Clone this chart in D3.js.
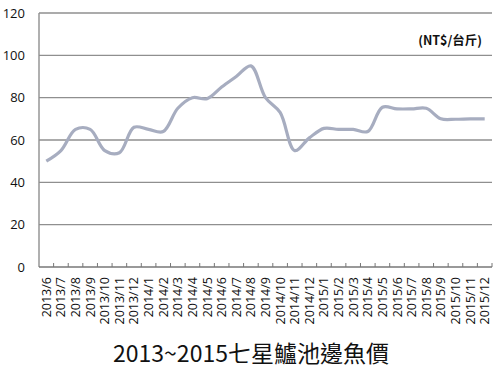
<!DOCTYPE html>
<html>
<head>
<meta charset="utf-8">
<script src="https://cdn.jsdelivr.net/npm/d3@7"></script>
<style>
    body { margin: 0; background: #fff; }
    svg { display: block; }
</style>
</head>
<body>
<div id="chart"></div>
<script>
// months and prices
const months = [
    "2013/6", "2013/7", "2013/8", "2013/9", "2013/10", "2013/11", "2013/12",
    "2014/1", "2014/2", "2014/3", "2014/4", "2014/5", "2014/6", "2014/7", "2014/8",
    "2014/9", "2014/10", "2014/11", "2014/12",
    "2015/1", "2015/2", "2015/3", "2015/4", "2015/5", "2015/6", "2015/7", "2015/8",
    "2015/9", "2015/10", "2015/11", "2015/12"
];
const prices = [
    50, 55, 65, 65, 55, 54, 66,
    65, 64, 75, 80, 79.5, 85, 90, 95,
    80, 73, 55, 61,
    65.5, 65, 65, 64, 75.5, 74.7, 74.7, 75,
    70, 69.8, 70, 70
];
const yTicks = [0, 20, 40, 60, 80, 100, 120];
const unitLabel = "(NT$/台斤)";
const title = "2013~2015七星鱸池邊魚價";

window.onload = () => {
    const w = 500, h = 377;
    const left = 39, right = 492, top = 13, bottom = 267;
    const gridColor = "#8f8f8f";

    const svg = d3.select("#chart").append("svg")
        .attr("width", w)
        .attr("height", h);

    const x = d3.scaleBand().domain(months).range([left, right]);
    const y = d3.scaleLinear().domain([0, 120]).range([bottom, top]);

    // gridlines
    svg.append("g")
        .selectAll("line")
        .data(yTicks.filter(d => d > 0))
        .enter()
        .append("line")
        .attr("x1", left)
        .attr("x2", right)
        .attr("y1", d => y(d))
        .attr("y2", d => y(d))
        .style("stroke", gridColor)
        .style("stroke-width", 1.4);

    // y tick labels
    svg.append("g")
        .selectAll("text")
        .data(yTicks)
        .enter()
        .append("text")
        .text(d => d)
        .attr("x", 25)
        .attr("y", d => y(d) + 4.5)
        .attr("text-anchor", "end")
        .style("font-family", "'Open Sans', sans-serif")
        .style("font-size", "13px")
        .style("fill", "#111");

    // axis lines
    svg.append("line")
        .attr("x1", left).attr("x2", left)
        .attr("y1", top).attr("y2", bottom)
        .style("stroke", gridColor)
        .style("stroke-width", 1.4);

    const xAxis = svg.append("g")
        .attr("transform", `translate(0,${bottom})`)
        .call(d3.axisBottom(x).tickSize(0).tickFormat(""));
    xAxis.select(".domain").remove();

    svg.append("line")
        .attr("x1", left).attr("x2", right)
        .attr("y1", bottom).attr("y2", bottom)
        .style("stroke", "#777")
        .style("stroke-width", 1.4);

    // inside ticks on band edges
    svg.append("g")
        .selectAll("line")
        .data(months.slice(1).concat([null]))
        .enter()
        .append("line")
        .attr("x1", d => d === null ? right : x(d))
        .attr("x2", d => d === null ? right : x(d))
        .attr("y1", bottom - 4)
        .attr("y2", bottom)
        .style("stroke", "#777")
        .style("stroke-width", 1);

    // month labels
    svg.append("g")
        .selectAll("text")
        .data(months)
        .enter()
        .append("text")
        .text(d => d)
        .attr("transform", d => `translate(${x(d) + x.bandwidth() / 2 + 4.5},${bottom + 10}) rotate(-90)`)
        .attr("text-anchor", "end")
        .style("font-family", "'Open Sans', sans-serif")
        .style("font-size", "12.5px")
        .style("fill", "#111");

    // price line
    const line = d3.line()
        .x((d, i) => x(months[i]) + x.bandwidth() / 2)
        .y(d => y(d))
        .curve(d3.curveCatmullRom.alpha(0.5));

    svg.append("path")
        .datum(prices)
        .attr("d", line)
        .style("fill", "none")
        .style("stroke", "#a7adc0")
        .style("stroke-width", 3.2)
        .style("stroke-linejoin", "round");

    // unit
    svg.append("text")
        .text(unitLabel)
        .attr("x", 482)
        .attr("y", 45)
        .attr("text-anchor", "end")
        .style("font-family", "'Noto Sans CJK TC', 'Noto Sans', sans-serif")
        .style("font-weight", "bold")
        .style("font-size", "12.5px")
        .style("fill", "#111");

    // title
    svg.append("text")
        .text(title)
        .attr("x", 251)
        .attr("y", 362)
        .attr("text-anchor", "middle")
        .style("font-family", "'Noto Sans CJK TC', sans-serif")
        .style("font-size", "23px")
        .style("fill", "#111");
};
</script>
</body>
</html>
